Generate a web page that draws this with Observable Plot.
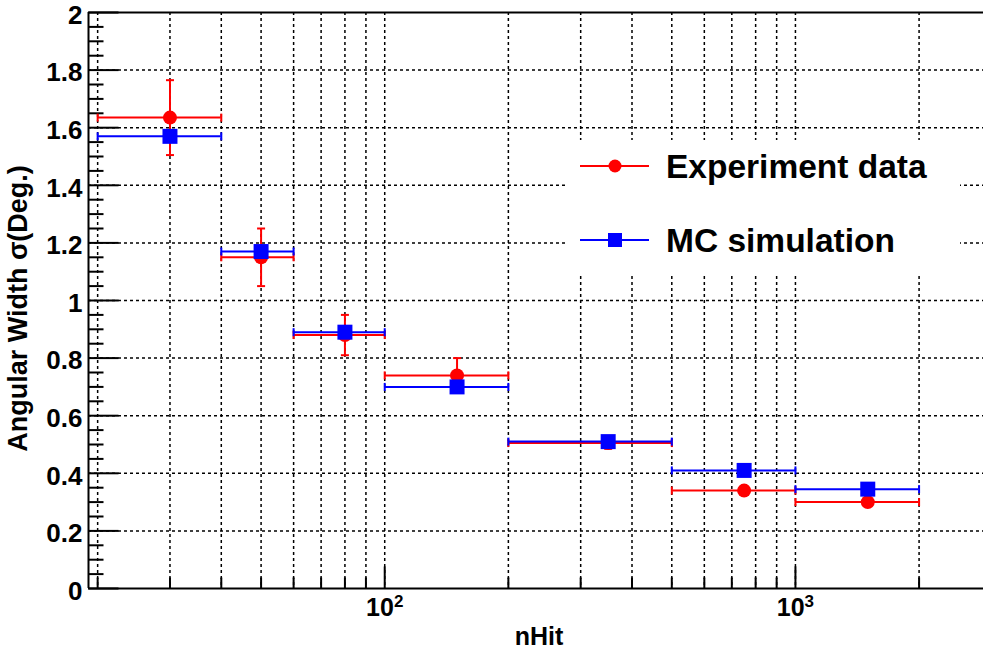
<!DOCTYPE html>
<html>
<head>
<meta charset="utf-8">
<script src="https://cdn.jsdelivr.net/npm/d3@7"></script>
<script src="https://cdn.jsdelivr.net/npm/@observablehq/plot@0.6"></script>
<style>
  body { margin: 0; background: #fff; }
  #chart { position: relative; width: 983px; height: 651px; overflow: hidden; }
  #legend { position: absolute; left: 0; top: 0; pointer-events: none; }
</style>
</head>
<body>
<div id="chart"></div>
<script>
// nHit bins (edges) and their centres
const binCenter = [30, 50, 80, 150, 350, 750, 1500];
const binLow    = [20, 40, 60, 100, 200, 500, 1000];
const binHigh   = [40, 60, 100, 200, 500, 1000, 2000];

// Angular width sigma (degrees)
const expSigma = [1.635, 1.15, 0.88, 0.74, 0.505, 0.34, 0.30];
const expError = [0.13, 0.10, 0.07, 0.06, 0.02, 0.015, 0.01];
const mcSigma  = [1.57, 1.17, 0.89, 0.70, 0.51, 0.41, 0.345];

// Axis ticks and labels
const xDomain = [19, 2870];
const yDomain = [0, 2];
const xMajorTicks = [100, 1000];
const xMinorTicks = [20, 30, 40, 50, 60, 70, 80, 90, 200, 300, 400, 500, 600, 700, 800, 900, 2000];
const xGridTicks = [20, 30, 40, 50, 60, 70, 80, 90, 100, 200, 300, 400, 500, 600, 700, 800, 900, 1000, 2000];
const yMajorTicks = [0, 0.2, 0.4, 0.6, 0.8, 1, 1.2, 1.4, 1.6, 1.8, 2];
const yTickLabels = ["0", "0.2", "0.4", "0.6", "0.8", "1", "1.2", "1.4", "1.6", "1.8", "2"];
const yGridTicks = [0.2, 0.4, 0.6, 0.8, 1, 1.2, 1.4, 1.6, 1.8];
const yMinorTicks = d3.range(0.05, 2, 0.05).filter(v => Math.abs(v * 5 - Math.round(v * 5)) > 1e-6);

const series = [
  {name: "Experiment data", color: "#ff0000", symbol: "circle"},
  {name: "MC simulation",   color: "#0000ff", symbol: "square"}
];

const expData = binCenter.map((x, i) => ({x, lo: binLow[i], hi: binHigh[i], y: expSigma[i], err: expError[i]}));
const mcData  = binCenter.map((x, i) => ({x, lo: binLow[i], hi: binHigh[i], y: mcSigma[i]}));

// small line-segment symbols for ticks and error-bar caps
const segment = (x0, y0, x1, y1) => ({draw(ctx) { ctx.moveTo(x0, y0); ctx.lineTo(x1, y1); }});
const capV = segment(0, -4, 0, 4);
const capH = segment(-4, 0, 4, 0);
const tickRight = len => segment(0, 0, len, 0);
const tickUp = len => segment(0, 0, 0, -len);

const font = "'Liberation Sans', Arial, Helvetica, sans-serif";
const red = series[0].color, blue = series[1].color;
const circleR = 7, squareSide = 15;

function errorMarks(data, color, withVertical) {
  const marks = [
    Plot.ruleY(data, {y: "y", x1: "lo", x2: "hi", stroke: color, strokeWidth: 2}),
    Plot.dot(data, {x: "lo", y: "y", symbol: capV, stroke: color, strokeWidth: 2, fill: "none"}),
    Plot.dot(data, {x: "hi", y: "y", symbol: capV, stroke: color, strokeWidth: 2, fill: "none"})
  ];
  if (withVertical) {
    marks.push(
      Plot.ruleX(data, {x: "x", y1: d => d.y - d.err, y2: d => d.y + d.err, stroke: color, strokeWidth: 2}),
      Plot.dot(data, {x: "x", y: d => d.y - d.err, symbol: capH, stroke: color, strokeWidth: 2, fill: "none"}),
      Plot.dot(data, {x: "x", y: d => d.y + d.err, symbol: capH, stroke: color, strokeWidth: 2, fill: "none"})
    );
  }
  return marks;
}

const gridStyle = {stroke: "#000", strokeOpacity: 1, strokeWidth: 1.5, strokeDasharray: "3,3"};

const chart = Plot.plot({
  width: 983,
  height: 651,
  marginLeft: 88,
  marginRight: 0,
  marginTop: 12,
  marginBottom: 63,
  style: {fontFamily: font, background: "#fff", overflow: "visible"},
  x: {type: "log", domain: xDomain},
  y: {domain: yDomain},
  marks: [
    Plot.gridX({ticks: xGridTicks, ...gridStyle}),
    Plot.gridY({ticks: yGridTicks, ...gridStyle}),
    // axis frame (left, bottom, top)
    Plot.ruleX([xDomain[0]], {stroke: "#000", strokeWidth: 2}),
    Plot.ruleY(yDomain, {stroke: "#000", strokeWidth: 2}),
    // inward ticks
    Plot.dot(yMajorTicks, {x: () => xDomain[0], y: d => d, symbol: tickRight(30), stroke: "#000", strokeWidth: 2, fill: "none"}),
    Plot.dot(yMinorTicks, {x: () => xDomain[0], y: d => d, symbol: tickRight(15), stroke: "#000", strokeWidth: 2, fill: "none"}),
    Plot.dot(xMajorTicks, {x: d => d, y: () => yDomain[0], symbol: tickUp(22), stroke: "#000", strokeWidth: 2, fill: "none"}),
    Plot.dot(xMinorTicks, {x: d => d, y: () => yDomain[0], symbol: tickUp(11), stroke: "#000", strokeWidth: 2, fill: "none"}),
    // tick labels
    Plot.axisY({ticks: yMajorTicks, tickSize: 0, tickPadding: 6, dy: 3, label: null,
      tickFormat: d => yTickLabels[yMajorTicks.indexOf(d)], fontSize: 26, fontWeight: "bold", fill: "#000"}),
    Plot.axisX({ticks: xMajorTicks, tickSize: 0, tickPadding: 10, label: null,
      tickFormat: d => `10^${Math.round(Math.log10(d))}`, fontSize: 25, fontWeight: "bold", fill: "#000"}),
    // axis titles
    Plot.text(["Angular Width σ(Deg.)"], {frameAnchor: "left", textAnchor: "middle", lineAnchor: "middle",
      rotate: -90, dx: -70, dy: 8, fontSize: 27, fontWeight: "bold", fill: "#000"}),
    Plot.text(["nHit"], {frameAnchor: "bottom", textAnchor: "middle", lineAnchor: "middle",
      dx: 3, dy: 48, fontSize: 25, fontWeight: "bold", fill: "#000"}),
    // experiment data (red) under MC simulation (blue)
    ...errorMarks(expData, red, true),
    Plot.dot(expData, {x: "x", y: "y", symbol: "circle", r: circleR, fill: red, stroke: "none"}),
    ...errorMarks(mcData, blue, false),
    Plot.dot(mcData, {x: "x", y: "y", symbol: "square", r: squareSide / Math.sqrt(Math.PI), fill: blue, stroke: "none"})
  ]
});

// x tick labels as powers of ten with a raised exponent
d3.select(chart).selectAll('g[aria-label="x-axis tick label"] text').each(function () {
  const [base, exp] = this.textContent.split("^");
  const t = d3.select(this).text(null);
  t.append("tspan").text(base);
  t.append("tspan").attr("dy", "-0.55em").attr("font-size", "17px").text(exp);
});

const container = document.getElementById("chart");
container.appendChild(chart);

// legend drawn over the upper-right part of the frame
const legend = d3.select(container).append("svg")
  .attr("id", "legend").attr("width", 983).attr("height", 651)
  .style("font-family", font);
legend.append("rect").attr("x", 565).attr("y", 140).attr("width", 395).attr("height", 136).attr("fill", "#fff");
const rows = legend.selectAll("g.row").data(series).join("g")
  .attr("class", "row")
  .attr("transform", (d, i) => `translate(0,${166 + i * 74})`);
rows.append("line").attr("x1", 580).attr("x2", 649).attr("y1", 0).attr("y2", 0)
  .attr("stroke", d => d.color).attr("stroke-width", 2);
rows.append("path")
  .attr("transform", "translate(615,0)")
  .attr("d", d => d3.symbol(d.symbol === "circle" ? d3.symbolCircle : d3.symbolSquare,
                           d.symbol === "circle" ? Math.PI * 6.5 * 6.5 : 14 * 14)())
  .attr("fill", d => d.color);
rows.append("text").attr("x", 666).attr("y", 12)
  .attr("font-size", 33.5).attr("font-weight", "bold").attr("fill", "#000")
  .text(d => d.name);
</script>
</body>
</html>
